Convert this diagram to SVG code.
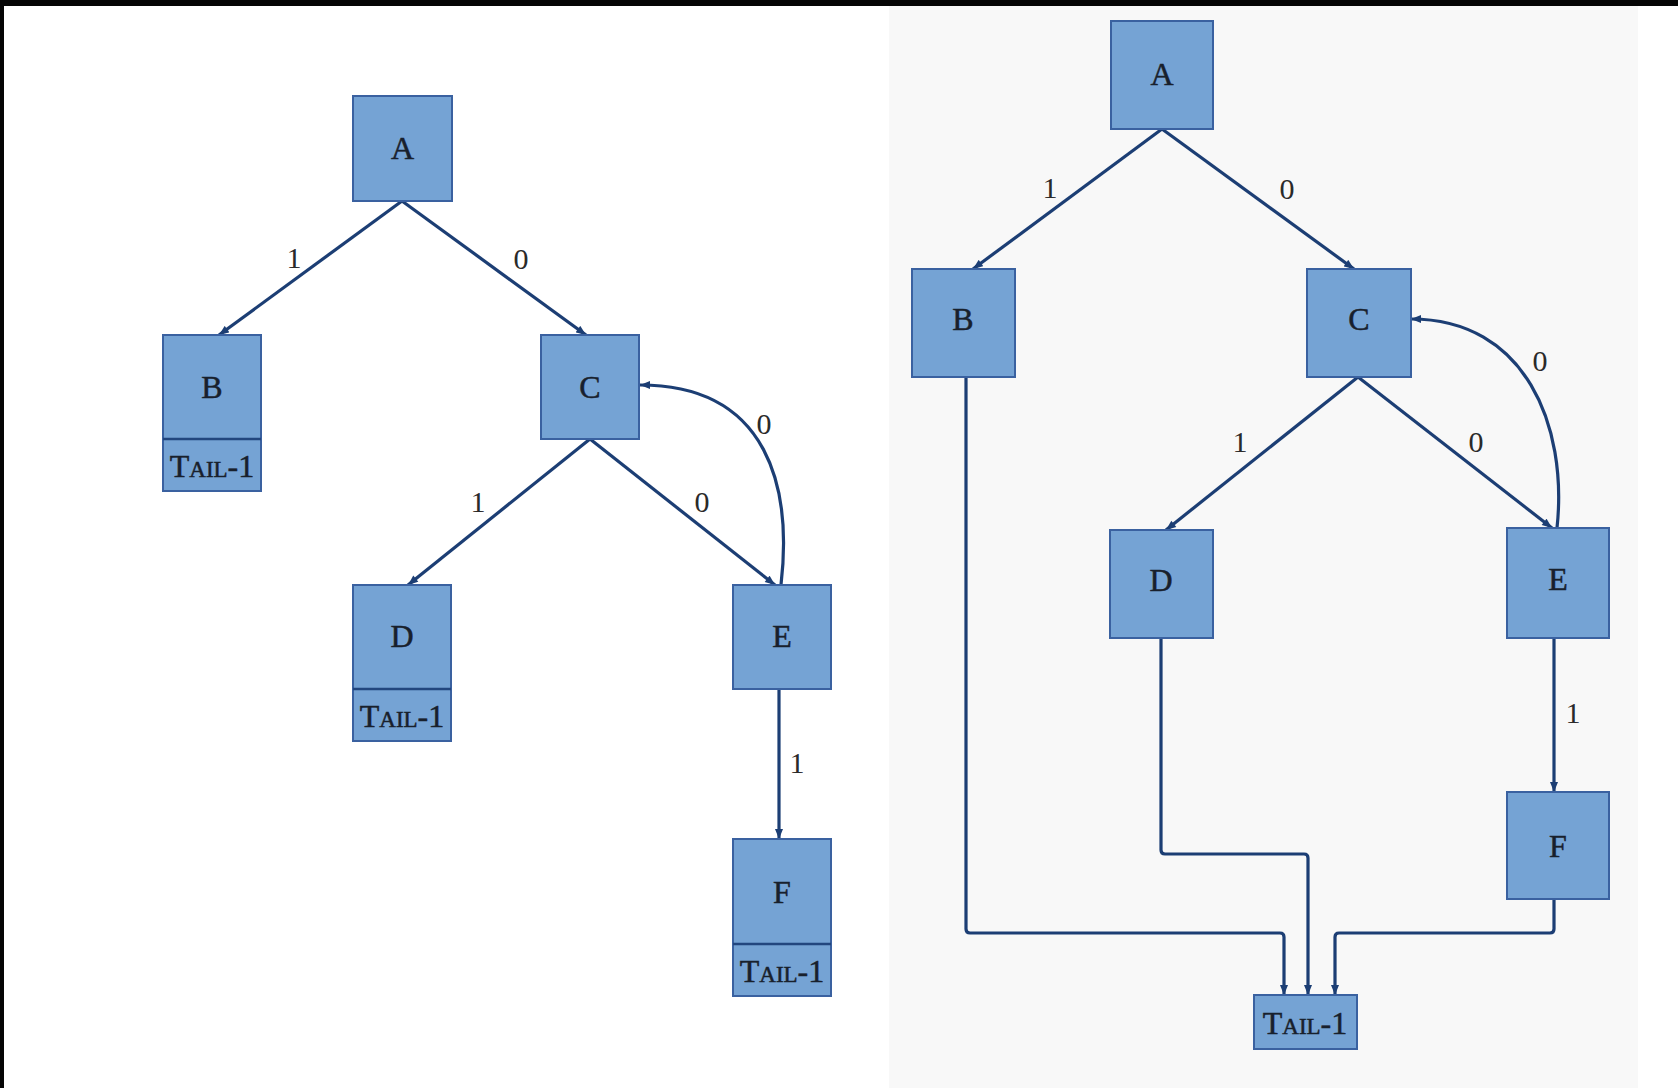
<svg xmlns="http://www.w3.org/2000/svg" width="1678" height="1088" viewBox="0 0 1678 1088">
  <defs>
    <style>
      .node { fill: #75a3d4; stroke: #3a61a0; stroke-width: 2; }
      .div { stroke: #22467e; stroke-width: 2.5; }
      .edge { fill: none; stroke: #1c3e74; stroke-width: 3.2; stroke-linejoin: round; }
      .lbl { font-family: "Liberation Serif", "Times New Roman", serif; font-size: 32px; fill: #18202c; stroke: #18202c; stroke-width: 0.5; text-anchor: middle; }
      .elbl { font-family: "Liberation Serif", "Times New Roman", serif; font-size: 30px; fill: #2a2a2a; text-anchor: middle; }
      .sc { font-size: 23px; }
    </style>
    <marker id="arrow" viewBox="0 0 10 8" refX="10" refY="4" markerWidth="11" markerHeight="8" markerUnits="userSpaceOnUse" orient="auto">
      <path d="M0,0 L10,4 L0,8 Z" fill="#1c3e74"/>
    </marker>
  </defs>

  <!-- frame and panels -->
  <rect x="0" y="0" width="1678" height="1088" fill="#ffffff"/>
  <rect x="889" y="6" width="749" height="1082" fill="#f8f8f8"/>
  <rect x="0" y="0" width="1678" height="6" fill="#050505"/>
  <rect x="0" y="0" width="4" height="1088" fill="#050505"/>

  <!-- connectors -->
  <g id="connectors">
    <!-- left tree -->
    <path class="edge" d="M402,201 L219,335" marker-end="url(#arrow)"/>
    <path class="edge" d="M402,201 L586,335" marker-end="url(#arrow)"/>
    <path class="edge" d="M590,439 L408,585" marker-end="url(#arrow)"/>
    <path class="edge" d="M590,439 L775,585" marker-end="url(#arrow)"/>
    <path class="edge" d="M781,585 C792,490 770,385 640,385" marker-end="url(#arrow)"/>
    <path class="edge" d="M779,689 L779,839" marker-end="url(#arrow)"/>
    <text class="elbl" x="294" y="268">1</text>
    <text class="elbl" x="521" y="269">0</text>
    <text class="elbl" x="478" y="512">1</text>
    <text class="elbl" x="702" y="512">0</text>
    <text class="elbl" x="764" y="434">0</text>
    <text class="elbl" x="797" y="773">1</text>

    <!-- right graph -->
    <path class="edge" d="M1162,129 L973,269" marker-end="url(#arrow)"/>
    <path class="edge" d="M1162,129 L1354,269" marker-end="url(#arrow)"/>
    <path class="edge" d="M1358,377 L1166,530" marker-end="url(#arrow)"/>
    <path class="edge" d="M1358,377 L1552,528" marker-end="url(#arrow)"/>
    <path class="edge" d="M1557,528 C1568,425 1525,319 1411,319" marker-end="url(#arrow)"/>
    <path class="edge" d="M1554,638 L1554,792" marker-end="url(#arrow)"/>
    <path class="edge" d="M966,377 L966,929 Q966,933 970,933 L1280,933 Q1284,933 1284,937 L1284,995" marker-end="url(#arrow)"/>
    <path class="edge" d="M1161,638 L1161,850 Q1161,854 1165,854 L1304,854 Q1308,854 1308,858 L1308,995" marker-end="url(#arrow)"/>
    <path class="edge" d="M1554,899 L1554,929 Q1554,933 1550,933 L1339,933 Q1335,933 1335,937 L1335,995" marker-end="url(#arrow)"/>
    <text class="elbl" x="1050" y="198">1</text>
    <text class="elbl" x="1287" y="199">0</text>
    <text class="elbl" x="1240" y="452">1</text>
    <text class="elbl" x="1476" y="452">0</text>
    <text class="elbl" x="1540" y="371">0</text>
    <text class="elbl" x="1573" y="723">1</text>
  </g>

  <!-- left tree nodes -->
  <g id="L-A">
    <rect class="node" x="353" y="96" width="99" height="105"/>
    <text class="lbl" x="402.5" y="159">A</text>
  </g>
  <g id="L-B">
    <rect class="node" x="163" y="335" width="98" height="156"/>
    <line class="div" x1="163" y1="439" x2="261" y2="439"/>
    <text class="lbl" x="212" y="398">B</text>
    <text class="lbl" x="212" y="477">T<tspan class="sc">AIL</tspan>-1</text>
  </g>
  <g id="L-C">
    <rect class="node" x="541" y="335" width="98" height="104"/>
    <text class="lbl" x="590" y="398">C</text>
  </g>
  <g id="L-D">
    <rect class="node" x="353" y="585" width="98" height="156"/>
    <line class="div" x1="353" y1="689" x2="451" y2="689"/>
    <text class="lbl" x="402" y="647">D</text>
    <text class="lbl" x="402" y="727">T<tspan class="sc">AIL</tspan>-1</text>
  </g>
  <g id="L-E">
    <rect class="node" x="733" y="585" width="98" height="104"/>
    <text class="lbl" x="782" y="647">E</text>
  </g>
  <g id="L-F">
    <rect class="node" x="733" y="839" width="98" height="157"/>
    <line class="div" x1="733" y1="944" x2="831" y2="944"/>
    <text class="lbl" x="782" y="903">F</text>
    <text class="lbl" x="782" y="982">T<tspan class="sc">AIL</tspan>-1</text>
  </g>

  <!-- right graph nodes -->
  <g id="R-A">
    <rect class="node" x="1111" y="21" width="102" height="108"/>
    <text class="lbl" x="1162" y="85">A</text>
  </g>
  <g id="R-B">
    <rect class="node" x="912" y="269" width="103" height="108"/>
    <text class="lbl" x="963" y="330">B</text>
  </g>
  <g id="R-C">
    <rect class="node" x="1307" y="269" width="104" height="108"/>
    <text class="lbl" x="1359" y="330">C</text>
  </g>
  <g id="R-D">
    <rect class="node" x="1110" y="530" width="103" height="108"/>
    <text class="lbl" x="1161" y="591">D</text>
  </g>
  <g id="R-E">
    <rect class="node" x="1507" y="528" width="102" height="110"/>
    <text class="lbl" x="1558" y="590">E</text>
  </g>
  <g id="R-F">
    <rect class="node" x="1507" y="792" width="102" height="107"/>
    <text class="lbl" x="1558" y="857">F</text>
  </g>
  <g id="R-TAIL">
    <rect class="node" x="1254" y="995" width="103" height="54"/>
    <text class="lbl" x="1305" y="1034">T<tspan class="sc">AIL</tspan>-1</text>
  </g>
</svg>
